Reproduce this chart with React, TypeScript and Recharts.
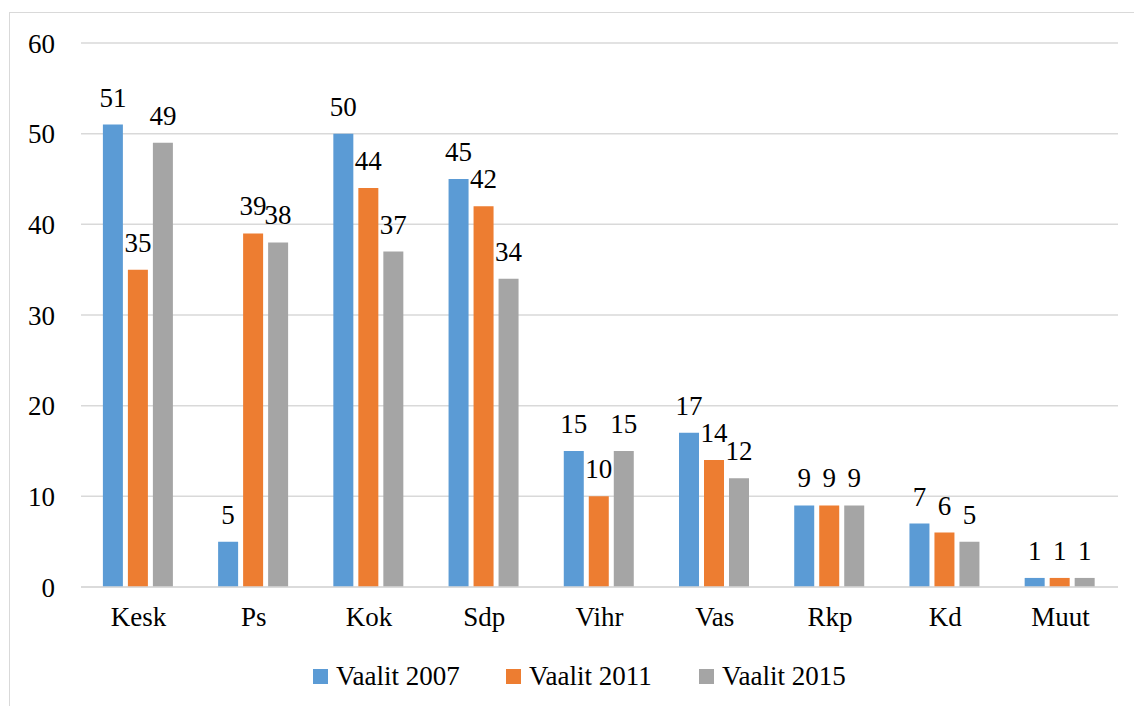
import { BarChart, Bar, XAxis, YAxis, CartesianGrid, Legend, LabelList } from 'recharts';

const parties = ['Kesk', 'Ps', 'Kok', 'Sdp', 'Vihr', 'Vas', 'Rkp', 'Kd', 'Muut'];
const vaalit2007 = [51, 5, 50, 45, 15, 17, 9, 7, 1];
const vaalit2011 = [35, 39, 44, 42, 10, 14, 9, 6, 1];
const vaalit2015 = [49, 38, 37, 34, 15, 12, 9, 5, 1];
const yTicks = [0, 10, 20, 30, 40, 50, 60];

const SERIES = [
  { key: 'v2007', name: 'Vaalit 2007', color: '#5b9bd5' },
  { key: 'v2011', name: 'Vaalit 2011', color: '#ed7d31' },
  { key: 'v2015', name: 'Vaalit 2015', color: '#a5a5a5' },
];

const rows = parties.map((party, i) => ({
  party,
  v2007: vaalit2007[i],
  v2011: vaalit2011[i],
  v2015: vaalit2015[i],
}));

const FONT = '"Times New Roman", "Liberation Serif", serif';
const FS = 27;

function LegendContent() {
  return (
    <div
      style={{
        display: 'flex',
        paddingLeft: 313,
        height: 30,
        alignItems: 'center',
        whiteSpace: 'nowrap',
      }}
    >
      {SERIES.map((s) => (
        <div key={s.key} style={{ display: 'flex', alignItems: 'center', width: 193 }}>
          <span style={{ width: 15, height: 15, backgroundColor: s.color, marginRight: 8, display: 'inline-block' }} />
          <span style={{ fontFamily: FONT, fontSize: FS, lineHeight: '30px', color: '#000' }}>{s.name}</span>
        </div>
      ))}
    </div>
  );
}

export default function App() {
  return (
    <div
      style={{
        position: 'fixed',
        left: 0,
        top: 0,
        width: 1134,
        height: 706,
        background: '#fff',
        overflow: 'hidden',
        fontFamily: FONT,
      }}
    >
      <div
        style={{
          position: 'absolute',
          left: 9,
          top: 12,
          width: 1140,
          height: 710,
          border: '1.5px solid #d9d9d9',
        }}
      />
      <div style={{ position: 'absolute', left: 0, top: 0 }}>
        <BarChart
          width={1134}
          height={706}
          data={rows}
          margin={{ top: 43, right: 16, left: 21, bottom: 59 }}
          barGap={5}
          barCategoryGap="19%"
          style={{ fontFamily: FONT }}
        >
          <CartesianGrid vertical={false} stroke="#d9d9d9" strokeWidth={1.5} />
          <XAxis
            dataKey="party"
            tickLine={false}
            axisLine={{ stroke: '#d9d9d9', strokeWidth: 1.5 }}
            tick={{ fontSize: FS, fill: '#000', fontFamily: FONT }}
            tickMargin={14}
          />
          <YAxis
            width={60}
            domain={[0, 60]}
            ticks={yTicks}
            tickLine={false}
            axisLine={false}
            tick={{ fontSize: FS, fill: '#000', fontFamily: FONT }}
            tickMargin={20}
          />
          <Legend
            verticalAlign="bottom"
            content={<LegendContent />}
            wrapperStyle={{ top: 661, left: 0, width: 1134 }}
          />
          {SERIES.map((s) => (
            <Bar key={s.key} dataKey={s.key} name={s.name} fill={s.color} isAnimationActive={false}>
              <LabelList
                dataKey={s.key}
                position="top"
                offset={18}
                fontFamily={FONT}
                fontSize={FS}
                fill="#000"
                style={{ fontSize: FS, fill: '#000', fontFamily: FONT }}
              />
            </Bar>
          ))}
        </BarChart>
      </div>
    </div>
  );
}
